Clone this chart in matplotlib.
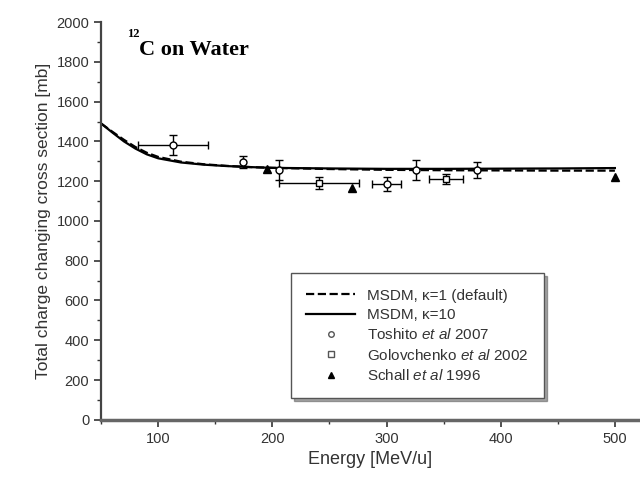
import numpy as np
import matplotlib.pyplot as plt
from matplotlib.ticker import MultipleLocator
from matplotlib.lines import Line2D

plt.rcParams['font.family'] = ['Liberation Sans', 'DejaVu Sans']
plt.rcParams['mathtext.fontset'] = 'custom'
plt.rcParams['mathtext.it'] = 'Liberation Sans:italic'
plt.rcParams['mathtext.rm'] = 'Liberation Sans'

# model curves (MSDM)
energy_model = [50, 60, 70, 80, 90, 100, 120, 140, 160, 180, 200, 250, 300, 350, 400, 450, 500]
msdm_k1 = [1490, 1448, 1408, 1372, 1343, 1322, 1298, 1285, 1277, 1271, 1267, 1261, 1257, 1255, 1254, 1253, 1253]
msdm_k10 = [1490, 1444, 1400, 1364, 1335, 1315, 1294, 1283, 1276, 1271, 1267, 1264, 1262, 1262, 1263, 1264, 1266]

# Toshito et al 2007
tosh_e = [113, 174, 206, 300, 326, 379]
tosh_cs = [1380, 1295, 1258, 1188, 1255, 1255]
tosh_xerr = [31, 0, 0, 13, 0, 0]
tosh_yerr = [50, 30, 50, 35, 50, 40]

# Golovchenko et al 2002
golo_e = [241, 352]
golo_cs = [1192, 1210]
golo_xerr = [35, 15]
golo_yerr = [30, 25]

# Schall et al 1996
schall_e = [195, 270, 500]
schall_cs = [1262, 1165, 1220]

fig = plt.figure(figsize=(6.4, 4.91), dpi=100)
ax = fig.add_axes([0.158, 0.145, 0.842, 0.81])

ax.plot(energy_model, msdm_k1, color='black', linestyle='--', linewidth=1.6)
ax.plot(energy_model, msdm_k10, color='black', linestyle='-', linewidth=1.6)

ax.errorbar(tosh_e, tosh_cs, xerr=tosh_xerr, yerr=tosh_yerr, fmt='o', mfc='white',
            mec='black', ms=5, color='black', capsize=3, elinewidth=1)
ax.errorbar(golo_e, golo_cs, xerr=golo_xerr, yerr=golo_yerr, fmt='s', mfc='white',
            mec='black', ms=5, color='black', capsize=3, elinewidth=1)
ax.plot(schall_e, schall_cs, '^', color='black', ms=6)

ax.set_xlim(50, 522)
ax.set_ylim(0, 2000)
ax.xaxis.set_major_locator(MultipleLocator(100))
ax.xaxis.set_minor_locator(MultipleLocator(50))
ax.yaxis.set_major_locator(MultipleLocator(200))
ax.yaxis.set_minor_locator(MultipleLocator(100))
ax.tick_params(which='major', direction='out', length=5, width=1.2, labelsize=10.5, colors='#333333')
ax.tick_params(which='minor', direction='out', length=3, width=1, colors='#333333')

for side in ['top', 'right']:
    ax.spines[side].set_visible(False)
ax.spines['left'].set_linewidth(1.6)
ax.spines['bottom'].set_linewidth(2.5)
ax.spines['left'].set_color('#444444')
ax.spines['bottom'].set_color('#666666')

ax.set_xlabel('Energy [MeV/u]', fontsize=13, color='#333333')
ax.set_ylabel('Total charge changing cross section [mb]', fontsize=12.5, color='#333333')

ax.text(0.048, 0.985, '12', transform=ax.transAxes, fontsize=9, fontweight='bold',
        family='Liberation Serif', va='top', ha='left')
ax.text(0.07, 0.955, 'C on Water', transform=ax.transAxes, fontsize=16, fontweight='bold',
        family='Liberation Serif', va='top', ha='left')

handles = [
    Line2D([], [], color='black', linestyle='--', linewidth=1.6),
    Line2D([], [], color='black', linestyle='-', linewidth=1.6),
    Line2D([], [], linestyle='none', marker='o', mfc='white', mec='#555555', ms=4),
    Line2D([], [], linestyle='none', marker='s', mfc='white', mec='#555555', ms=4),
    Line2D([], [], linestyle='none', marker='^', color='black', ms=5),
]
labels = ['MSDM, κ=1 (default)', 'MSDM, κ=10',
          r'Toshito $\mathit{et\ al}$ 2007', r'Golovchenko $\mathit{et\ al}$ 2002',
          r'Schall $\mathit{et\ al}$ 1996']
leg = ax.legend(handles, labels, loc='lower left', bbox_to_anchor=(0.338, 0.035), fontsize=11,
                frameon=True, fancybox=False, shadow=True, handlelength=3.2,
                labelspacing=0.35, borderpad=1.0)
leg.get_frame().set_edgecolor('#555555')
leg.get_frame().set_linewidth(1)
for t in leg.get_texts():
    t.set_color('#333333')

fig.savefig('out.png', dpi=100)
